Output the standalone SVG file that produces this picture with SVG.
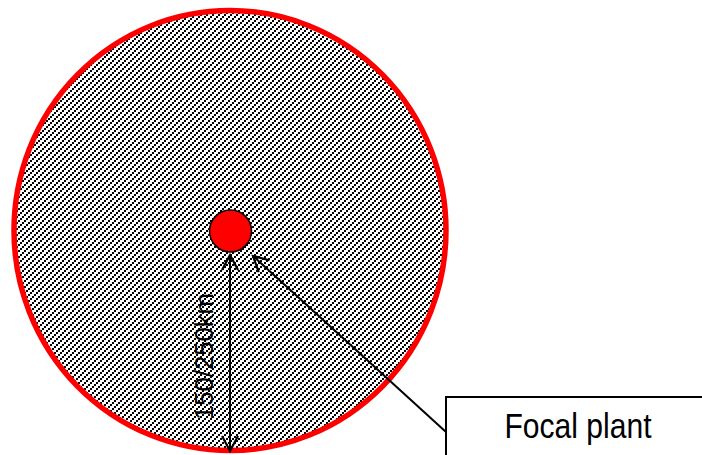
<svg xmlns="http://www.w3.org/2000/svg" width="702" height="455" viewBox="0 0 702 455">
  <style>
    .conn { stroke: #000; stroke-width: 2; fill: none; }
    .lbl { font-family: "Liberation Sans", Arial, sans-serif; fill: #000; }
    .dot { fill: #000; shape-rendering: crispEdges; }
  </style>
  <defs>
    <pattern id="hatch" patternUnits="userSpaceOnUse" width="6" height="6">
      <rect width="6" height="6" fill="#fff"/>
      <rect class="dot" x="0" y="4" width="2" height="2"/>
      <rect class="dot" x="2" y="2" width="2" height="2"/>
      <rect class="dot" x="4" y="0" width="2" height="2"/>
    </pattern>
    <marker id="arr" markerUnits="userSpaceOnUse" markerWidth="24" markerHeight="24" viewBox="-18 -12 24 24" refX="0" refY="0" orient="auto-start-reverse" overflow="visible">
      <path d="M-15,-8 L0,0 L-15,8" fill="none" stroke="#000" stroke-width="2.2"/>
    </marker>
  </defs>

  <g id="region">
    <ellipse cx="230" cy="230.5" rx="216" ry="220" fill="url(#hatch)" stroke="#ff0000" stroke-width="5.5"/>
  </g>

  <g id="plant">
    <circle cx="230.5" cy="231" r="21" fill="#ff0000" stroke="#000" stroke-width="1.5"/>
  </g>

  <g id="connectors">
    <line class="conn" x1="230" y1="255" x2="230" y2="451" stroke-width="2.5" marker-start="url(#arr)" marker-end="url(#arr)"/>
    <line class="conn" x1="446" y1="432" x2="253" y2="256" marker-end="url(#arr)"/>
  </g>

  <g id="radius-label">
    <text class="lbl" font-size="25" text-anchor="middle" textLength="127" lengthAdjust="spacingAndGlyphs" transform="translate(213,356.5) rotate(-90)">150/250km</text>
  </g>

  <g id="callout">
    <path class="conn" d="M446,455 L446,397 L702,397"/>
    <text class="lbl" x="578" y="438" font-size="35" text-anchor="middle" textLength="147" lengthAdjust="spacingAndGlyphs">Focal plant</text>
  </g>
</svg>
